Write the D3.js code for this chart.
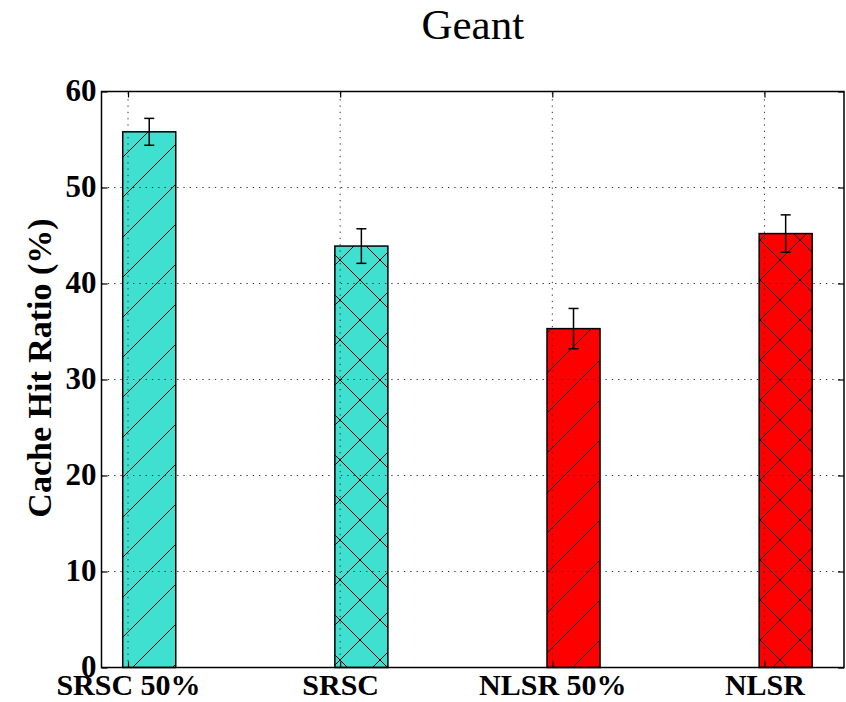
<!DOCTYPE html>
<html>
<head>
<meta charset="utf-8">
<script src="https://cdn.jsdelivr.net/npm/d3@7"></script>
<style>
  body { margin: 0; background: #fff; }
  svg { display: block; }
</style>
</head>
<body>
<div id="chart"></div>
<script>
// values
const categories = ["SRSC 50%", "SRSC", "NLSR 50%", "NLSR"];
const hitRatio = [55.8, 43.9, 35.3, 45.2];
const hitError = [1.4, 1.8, 2.1, 1.95];
const yTicks = [0, 10, 20, 30, 40, 50, 60];

const width = 846, height = 702;
const margin = {top: 91.5, right: 2, bottom: 34.5, left: 101.5};

const svg = d3.select("#chart").append("svg")
    .attr("width", width)
    .attr("height", height);

// bars sit a bit right of their tick, like matplotlib's edge aligned bars
const x = d3.scaleLinear().domain([-0.125, 3.375]).range([margin.left, width - margin.right]);
const y = d3.scaleLinear().domain([0, 60]).range([height - margin.bottom, margin.top]);
const barOffset = -0.025, barWidth = 0.25;

const group = d => d.split(" ")[0];
const color = d3.scaleOrdinal().domain(["SRSC", "NLSR"]).range(["#40E0D0", "#FF0000"]);
const hatchOf = d => d.indexOf("50%") >= 0 ? "slash" : "cross";

// hatch patterns, tiled in page space
const defs = svg.append("defs");
function hatch(id, lines) {
    const p = defs.append("pattern")
        .attr("id", id)
        .attr("patternUnits", "userSpaceOnUse")
        .attr("width", 40).attr("height", 40);
    lines.forEach(l => p.append("line")
        .attr("x1", l[0]).attr("y1", l[1]).attr("x2", l[2]).attr("y2", l[3])
        .attr("stroke", "#000").attr("stroke-width", 1));
}
const slash = [[0, 40, 40, 0], [-10, 10, 10, -10], [30, 50, 50, 30]];
const back = [[0, 0, 40, 40], [-10, 30, 10, 50], [30, -10, 50, 10]];
hatch("slash", slash);
hatch("cross", slash.concat(back));

const data = categories.map((c, i) => ({name: c, value: hitRatio[i], err: hitError[i], i: i}));

// bars: colour first, hatch over it
const bars = svg.append("g");
bars.selectAll("rect.fill")
    .data(data)
    .enter()
    .append("rect")
    .attr("class", "fill")
    .attr("x", d => x(d.i + barOffset))
    .attr("y", d => y(d.value))
    .attr("width", d => x(d.i + barOffset + barWidth) - x(d.i + barOffset))
    .attr("height", d => y(0) - y(d.value))
    .attr("fill", d => color(group(d.name)));
bars.selectAll("rect.hatch")
    .data(data)
    .enter()
    .append("rect")
    .attr("class", "hatch")
    .attr("x", d => x(d.i + barOffset))
    .attr("y", d => y(d.value))
    .attr("width", d => x(d.i + barOffset + barWidth) - x(d.i + barOffset))
    .attr("height", d => y(0) - y(d.value))
    .attr("fill", d => "url(#" + hatchOf(d.name) + ")")
    .attr("stroke", "#000")
    .attr("stroke-width", 1.5);

// dotted grid, drawn above the bars
const grid = svg.append("g")
    .attr("stroke", "#333")
    .attr("stroke-width", 1)
    .attr("stroke-dasharray", "1.3,5");
grid.selectAll("line.h")
    .data(yTicks.slice(1, -1))
    .enter()
    .append("line")
    .attr("x1", x.range()[0]).attr("x2", x.range()[1])
    .attr("y1", d => y(d)).attr("y2", d => y(d));
grid.selectAll("line.v")
    .data(data)
    .enter()
    .append("line")
    .attr("x1", d => x(d.i)).attr("x2", d => x(d.i))
    .attr("y1", y.range()[0]).attr("y2", y.range()[1]);

// error bars
const eb = svg.append("g").attr("stroke", "#000").attr("stroke-width", 1.5);
const cx = d => x(d.i + barOffset + barWidth / 2);
eb.selectAll("line.stem")
    .data(data).enter().append("line")
    .attr("x1", cx).attr("x2", cx)
    .attr("y1", d => y(d.value - d.err)).attr("y2", d => y(d.value + d.err));
eb.selectAll("line.capTop")
    .data(data).enter().append("line")
    .attr("x1", d => cx(d) - 5).attr("x2", d => cx(d) + 5)
    .attr("y1", d => y(d.value + d.err)).attr("y2", d => y(d.value + d.err));
eb.selectAll("line.capBot")
    .data(data).enter().append("line")
    .attr("x1", d => cx(d) - 5).attr("x2", d => cx(d) + 5)
    .attr("y1", d => y(d.value - d.err)).attr("y2", d => y(d.value - d.err));

// axes: ticks point inward on all four sides
const tickFont = "'Liberation Serif', 'Times New Roman', serif";
const axLeft = svg.append("g")
    .attr("transform", "translate(" + margin.left + ",0)")
    .call(d3.axisLeft(y).tickValues(yTicks).tickSize(-6).tickPadding(4).tickSizeOuter(0));
const axRight = svg.append("g")
    .attr("transform", "translate(" + (width - margin.right) + ",0)")
    .call(d3.axisRight(y).tickValues(yTicks).tickSize(-6).tickFormat("").tickSizeOuter(0));
const axBottom = svg.append("g")
    .attr("transform", "translate(0," + (height - margin.bottom) + ")")
    .call(d3.axisBottom(x).tickValues(d3.range(categories.length))
        .tickFormat(i => categories[i]).tickSize(-6).tickSizeOuter(0));
const axTop = svg.append("g")
    .attr("transform", "translate(0," + margin.top + ")")
    .call(d3.axisTop(x).tickValues(d3.range(categories.length)).tickFormat("").tickSize(-6).tickSizeOuter(0));

[axLeft, axRight, axBottom, axTop].forEach(a => {
    a.select(".domain").remove();
    a.selectAll(".tick line").attr("stroke", "#000").attr("stroke-width", 1.2);
});
axLeft.selectAll(".tick text")
    .attr("font-family", tickFont).attr("font-weight", "bold").attr("font-size", 31)
    .attr("fill", "#000").attr("x", -5).attr("dy", "0.3em");
axBottom.selectAll(".tick text")
    .attr("font-family", tickFont).attr("font-weight", "bold").attr("font-size", 30)
    .attr("fill", "#000").attr("dy", null).attr("y", 27);

// frame
svg.append("rect")
    .attr("x", margin.left).attr("y", margin.top)
    .attr("width", width - margin.left - margin.right)
    .attr("height", height - margin.top - margin.bottom)
    .attr("fill", "none").attr("stroke", "#000").attr("stroke-width", 1.5);

// y label
svg.append("text")
    .attr("transform", "translate(51,368) rotate(-90)")
    .attr("text-anchor", "middle")
    .attr("font-family", tickFont).attr("font-weight", "bold").attr("font-size", 34)
    .text("Cache Hit Ratio (%)");

// title
svg.append("text")
    .attr("x", (x.range()[0] + x.range()[1]) / 2)
    .attr("y", 39)
    .attr("text-anchor", "middle")
    .attr("font-family", tickFont).attr("font-size", 43)
    .text("Geant");
</script>
</body>
</html>
